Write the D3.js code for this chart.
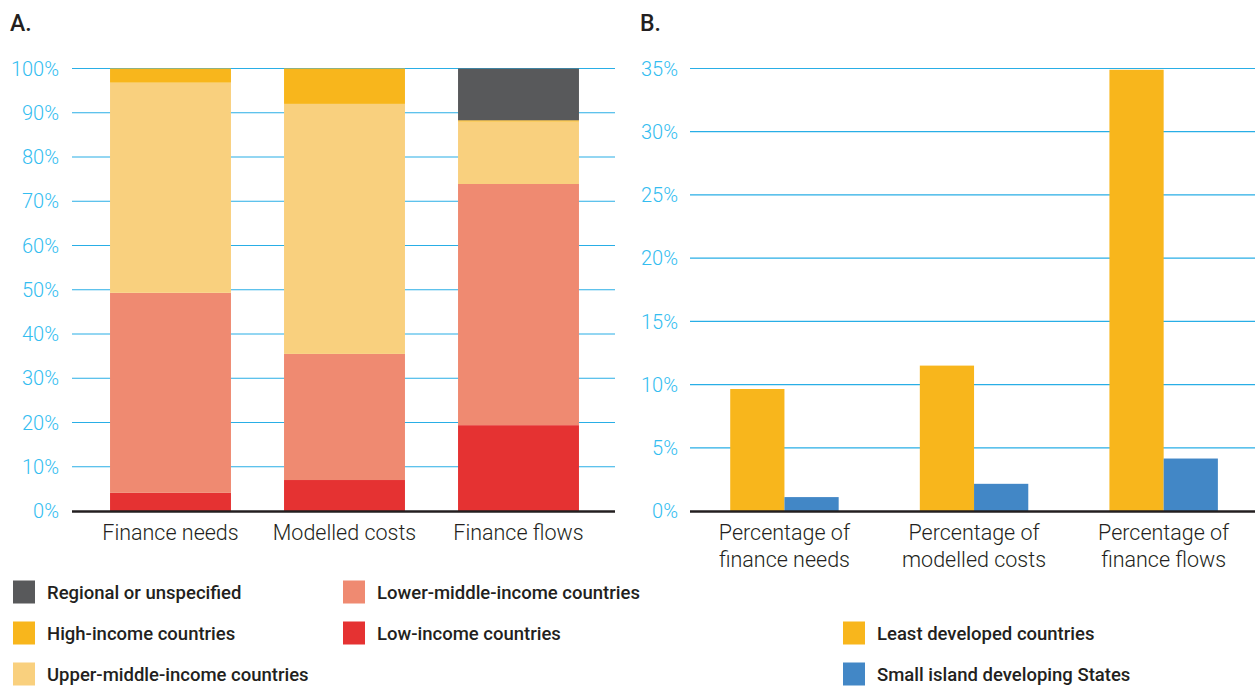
<!DOCTYPE html>
<html>
<head>
<meta charset="utf-8">
<script src="https://cdn.jsdelivr.net/npm/d3@7"></script>
<style>
  html, body { margin: 0; padding: 0; background: #fff; }
  svg { display: block; }
</style>
</head>
<body>
<svg id="chart" width="1255" height="686"></svg>
<script>
// ---------- DATA ----------
const categoriesA = ["Finance needs", "Modelled costs", "Finance flows"];
const lowIncome = [4.1, 7.0, 19.4];
const lowerMiddleIncome = [45.2, 28.5, 54.5];
const upperMiddleIncome = [47.5, 56.5, 14.1];
const highIncome = [3.2, 8.0, 0.3];
const regionalUnspecified = [0, 0, 11.7];
const ticksA = [0, 10, 20, 30, 40, 50, 60, 70, 80, 90, 100];

const categoriesB = [["Percentage of", "finance needs"], ["Percentage of", "modelled costs"], ["Percentage of", "finance flows"]];
const leastDeveloped = [9.65, 11.5, 34.9];
const smallIsland = [1.1, 2.15, 4.15];
const ticksB = [0, 5, 10, 15, 20, 25, 30, 35];

const seriesA = [
  { key: "low", name: "Low-income countries", values: lowIncome, color: "#e53232" },
  { key: "lmid", name: "Lower-middle-income countries", values: lowerMiddleIncome, color: "#ef8a71" },
  { key: "umid", name: "Upper-middle-income countries", values: upperMiddleIncome, color: "#f9d07e" },
  { key: "high", name: "High-income countries", values: highIncome, color: "#f8b61c" },
  { key: "reg", name: "Regional or unspecified", values: regionalUnspecified, color: "#58595b" }
];
const seriesB = [
  { key: "ldc", name: "Least developed countries", values: leastDeveloped, color: "#f8b61c" },
  { key: "sids", name: "Small island developing States", values: smallIsland, color: "#4287c6" }
];

// ---------- STYLE ----------
const gridColor = "#29aee6";
const tickColor = "#33bdf0";
const textDark = "#231f20";
const svg = d3.select("#chart");

// ---------- PANEL A ----------
const yA = d3.scaleLinear().domain([0, 100]).range([511, 68.5]);
const xA = d3.scaleBand().domain(categoriesA).range([83.5, 605.5]).paddingInner(0.305).paddingOuter(0.1525);

const gA = svg.append("g");
gA.append("text").attr("x", 10).attr("y", 31).text("A.")
  .attr("font-family", "Roboto").attr("font-weight", 500).attr("font-size", 23).attr("fill", textDark);

gA.selectAll("line.grid").data(ticksA.filter(t => t > 0)).join("line")
  .attr("x1", 72).attr("x2", 615)
  .attr("y1", d => yA(d)).attr("y2", d => yA(d))
  .attr("stroke", gridColor).attr("stroke-width", 1.2);

gA.selectAll("text.tick").data(ticksA).join("text")
  .attr("x", 59).attr("y", d => yA(d)).attr("dy", "0.36em")
  .attr("text-anchor", "end")
  .attr("font-family", "Roboto").attr("font-weight", 300).attr("font-size", 20)
  .attr("fill", tickColor).text(d => d + "%");

const tableA = categoriesA.map((c, i) => {
  const o = { cat: c };
  seriesA.forEach(s => o[s.key] = s.values[i]);
  return o;
});
const stackA = d3.stack().keys(seriesA.map(s => s.key))(tableA);
stackA.forEach((layer, li) => {
  gA.append("g").selectAll("rect").data(layer).join("rect")
    .attr("x", d => xA(d.data.cat))
    .attr("width", xA.bandwidth())
    .attr("y", d => yA(d[1]))
    .attr("height", d => Math.max(0, yA(d[0]) - yA(d[1])))
    .attr("fill", seriesA[li].color);
});

gA.append("line").attr("x1", 72).attr("x2", 615).attr("y1", yA(0) + 0.5).attr("y2", yA(0) + 0.5)
  .attr("stroke", textDark).attr("stroke-width", 2.5);

gA.selectAll("text.cat").data(categoriesA).join("text")
  .attr("x", d => xA(d) + xA.bandwidth() / 2).attr("y", 540)
  .attr("text-anchor", "middle")
  .attr("font-family", "Roboto").attr("font-weight", 300).attr("font-size", 21.5)
  .attr("fill", textDark).text(d => d);

// ---------- PANEL B ----------
const yB = d3.scaleLinear().domain([0, 35]).range([511, 68.5]);
const catKeysB = categoriesB.map(d => d.join(" "));
const xB = d3.scaleBand().domain(catKeysB).range([692.3, 1255.8]).paddingInner(0.428).paddingOuter(0.2);
const xSub = d3.scaleBand().domain(seriesB.map(s => s.key)).range([0, xB.bandwidth()]);

const gB = svg.append("g");
gB.append("text").attr("x", 640).attr("y", 31).text("B.")
  .attr("font-family", "Roboto").attr("font-weight", 500).attr("font-size", 23).attr("fill", textDark);

gB.selectAll("line.grid").data(ticksB.filter(t => t > 0)).join("line")
  .attr("x1", 690).attr("x2", 1255)
  .attr("y1", d => yB(d)).attr("y2", d => yB(d))
  .attr("stroke", gridColor).attr("stroke-width", 1.2);

gB.selectAll("text.tick").data(ticksB).join("text")
  .attr("x", 678).attr("y", d => yB(d)).attr("dy", "0.36em")
  .attr("text-anchor", "end")
  .attr("font-family", "Roboto").attr("font-weight", 300).attr("font-size", 20)
  .attr("fill", tickColor).text(d => d + "%");

seriesB.forEach(s => {
  gB.append("g").selectAll("rect").data(s.values).join("rect")
    .attr("x", (d, i) => xB(catKeysB[i]) + xSub(s.key))
    .attr("width", xSub.bandwidth())
    .attr("y", d => yB(d))
    .attr("height", d => yB(0) - yB(d))
    .attr("fill", s.color);
});

gB.append("line").attr("x1", 690).attr("x2", 1255).attr("y1", yB(0) + 0.5).attr("y2", yB(0) + 0.5)
  .attr("stroke", textDark).attr("stroke-width", 2.5);

categoriesB.forEach((lines, i) => {
  const t = gB.append("text")
    .attr("x", xB(catKeysB[i]) + xB.bandwidth() / 2).attr("y", 540)
    .attr("text-anchor", "middle")
    .attr("font-family", "Roboto").attr("font-weight", 300).attr("font-size", 21.5)
    .attr("fill", textDark);
  lines.forEach((ln, j) => {
    t.append("tspan").attr("x", xB(catKeysB[i]) + xB.bandwidth() / 2).attr("dy", j === 0 ? 0 : 26.5).text(ln);
  });
});

// ---------- LEGENDS ----------
const legendA = [
  { s: "reg", x: 13, y: 592 },
  { s: "high", x: 13, y: 633 },
  { s: "umid", x: 13, y: 674 },
  { s: "lmid", x: 343, y: 592 },
  { s: "low", x: 343, y: 633 }
];
const legendB = [
  { s: "ldc", x: 843, y: 633 },
  { s: "sids", x: 843, y: 674 }
];
const allSeries = seriesA.concat(seriesB);
const lg = svg.append("g");
legendA.concat(legendB).forEach(item => {
  const s = allSeries.find(d => d.key === item.s);
  lg.append("rect").attr("x", item.x).attr("y", item.y - 11.5).attr("width", 22).attr("height", 23).attr("fill", s.color);
  lg.append("text").attr("x", item.x + 34).attr("y", item.y).attr("dy", "0.36em")
    .attr("font-family", "Roboto").attr("font-weight", 500).attr("font-size", 18.5)
    .attr("fill", textDark).text(s.name);
});
</script>
</body>
</html>
